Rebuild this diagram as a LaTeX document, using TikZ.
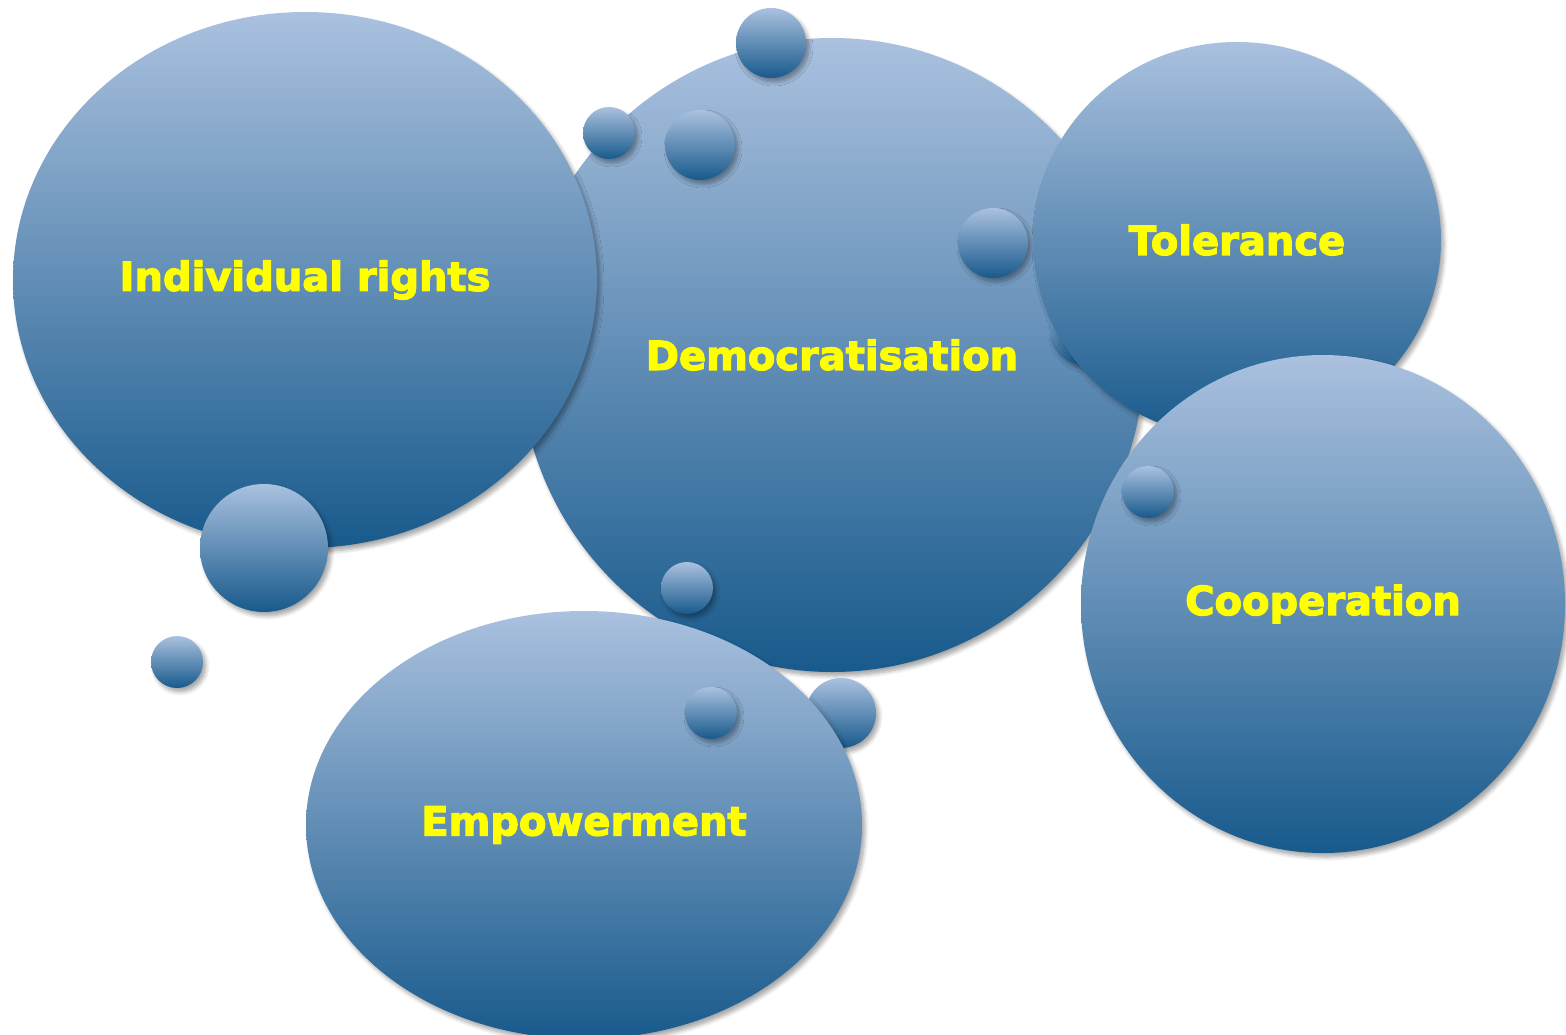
\documentclass[tikz,border=0pt]{standalone}
\usepackage{fontspec}
\setmainfont{DejaVu Sans}
\newfontfamily\labelfont[FakeBold=3]{DejaVu Sans Bold}
\usepackage{tikz}
\usetikzlibrary{shapes.geometric,shadows.blur}

\definecolor{bubtop}{RGB}{170,193,223}
\definecolor{bubmid}{RGB}{138,164,199}
\definecolor{bubbot}{RGB}{24,90,140}
\definecolor{labyel}{RGB}{255,255,0}

\begin{document}
\begin{tikzpicture}[x=1pt,y=-1pt,
  bubble/.style={ellipse,inner sep=0pt,top color=bubtop,middle color=bubmid,bottom color=bubbot,
    blur shadow={shadow xshift=3pt,shadow yshift=-4pt,shadow blur steps=6,shadow blur radius=4pt,shadow opacity=35}},
  idea/.style={bubble,text=labyel,font=\labelfont\fontsize{40}{48}\selectfont},
  dot/.style={bubble,minimum width=#1,minimum height=#1}]
  \useasboundingbox (0,0) rectangle (1566,1035);
  \node[idea,minimum width=625,minimum height=634] (D) at (832,355){Democratisation};
  \node[dot=70] (b1) at (771,43){};
  \node[dot=52] (b2) at (609,133){};
  \node[dot=70] (b3) at (700,145){};
  \node[dot=70] (b4) at (993,243){};
  \node[dot=70] (b5) at (1085,330){};
  \node[dot=52] (b6) at (687,588){};
  \node[dot=70] (b7) at (841,713){};
  \node[idea,minimum width=584,minimum height=536] (I) at (305,280){Individual rights};
  \node[dot=128] (b8) at (264,548){};
  \node[dot=52] (b9) at (177,662){};
  \node[idea,minimum width=408,minimum height=396] (T) at (1237,240){Tolerance};
  \node[idea,minimum width=484,minimum height=498] (C) at (1323,604){Cooperation};
  \node[dot=52] (b10) at (1148,492){};
  \node[idea,minimum width=556,minimum height=428] (E) at (584,825){Empowerment};
  \node[dot=52] (b11) at (711,713){};
\end{tikzpicture}
\end{document}
